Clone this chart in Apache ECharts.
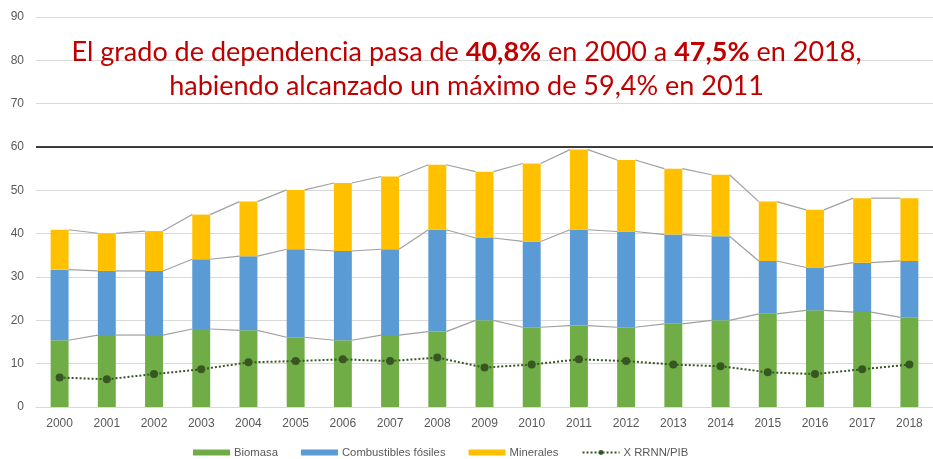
<!DOCTYPE html>
<html>
<head>
<meta charset="utf-8">
<script src="https://cdn.jsdelivr.net/npm/echarts@6/dist/echarts.min.js"></script>
<style>html,body{margin:0;padding:0;background:#fff;}#c{width:933px;height:459px;}</style>
</head>
<body>
<div id="c"></div>
<script>
const years = ['2000','2001','2002','2003','2004','2005','2006','2007','2008','2009','2010','2011','2012','2013','2014','2015','2016','2017','2018'];
const biomasa = [15.4,16.6,16.6,18.0,17.7,16.1,15.4,16.6,17.4,20.0,18.4,18.8,18.4,19.2,20.0,21.5,22.3,21.9,20.7];
const combustibles = [16.3,14.8,14.8,16.1,17.1,20.3,20.6,19.8,23.5,19.0,19.8,22.1,22.1,20.6,19.4,12.2,9.9,11.4,13.0];
const minerales = [9.2,8.7,9.2,10.3,12.6,13.7,15.7,16.8,15.0,15.3,18.0,18.5,16.5,15.2,14.2,13.7,13.3,14.9,14.5];
const rrnnPib = [6.8,6.4,7.6,8.7,10.3,10.6,11.0,10.6,11.4,9.1,9.8,11.0,10.6,9.8,9.4,8.0,7.6,8.7,9.8];
const yTicks = [0,10,20,30,40,50,60,70,80,90];

const lvl1 = biomasa.slice();
const lvl2 = biomasa.map((v,i)=>v+combustibles[i]);
const lvl3 = lvl2.map((v,i)=>v+minerales[i]);
const seriesLineData = [];
[lvl1,lvl2,lvl3].forEach(l=>{
  for (let i=0;i<l.length-1;i++) seriesLineData.push([i, l[i], l[i+1]]);
});

const chart = echarts.init(document.getElementById('c'));
const red = '#c00000';
const tfont = 'Lato';
const tsize = 27;
chart.setOption({
  animation:false,
  title:[
    {left:'center', top:36, padding:0, text:'{a|El grado de dependencia pasa de }{b|40,8%}{a| en 2000 a }{b|47,5%}{a| en 2018,}',
      textStyle:{fontWeight:'normal',lineHeight:32,rich:{a:{fontFamily:tfont,fontSize:tsize,color:red,fontWeight:'normal',lineHeight:32},b:{fontFamily:tfont,fontSize:tsize,color:red,fontWeight:'bold',lineHeight:32}}}},
    {left:'center', top:70, padding:0, text:'habiendo alcanzado un máximo de 59,4% en 2011',
      textStyle:{fontFamily:tfont,fontSize:tsize,color:red,fontWeight:'normal',lineHeight:32}}
  ],
  grid:{left:36,right:-1,top:17,bottom:52,containLabel:false},
  legend:{
    left:193, top:447, padding:0, itemWidth:37, itemHeight:6, itemGap:23,
    textStyle:{fontFamily:'Liberation Sans',fontSize:11.3,color:'#595959',padding:[0,0,0,-1]},
    data:[{name:'Biomasa',icon:'rect'},{name:'Combustibles fósiles',icon:'rect'},{name:'Minerales',icon:'rect'},{name:'X RRNN/PIB'}]
  },
  xAxis:{type:'category',data:years,
    axisLine:{show:true,lineStyle:{color:'#d9d9d9',width:1}},axisTick:{show:false},
    axisLabel:{fontFamily:'Liberation Sans',fontSize:12,color:'#595959',margin:11}},
  yAxis:{type:'value',min:yTicks[0],max:yTicks[yTicks.length-1],interval:10,
    axisLine:{show:false},axisTick:{show:false},
    splitLine:{lineStyle:{color:'#d9d9d9',width:1}},
    axisLabel:{fontFamily:'Liberation Sans',fontSize:12,color:'#595959',margin:12}},
  series:[
    {name:'seriesLines',type:'custom',z:1,silent:true,data:seriesLineData,
      renderItem:function(params,api){
        const i=api.value(0);
        const p0=api.coord([i,api.value(1)]);
        const p1=api.coord([i+1,api.value(2)]);
        const hw=api.size([1,0])[0]*0.38/2;
        return {type:'line',shape:{x1:p0[0]+hw,y1:p0[1],x2:p1[0]-hw,y2:p1[1]},
          style:{stroke:'#a0a0a0',lineWidth:1.2}};
      }},
    {name:'Biomasa',type:'bar',stack:'t',barWidth:'38%',data:biomasa,z:2,
      itemStyle:{color:'#70ad47'},
      markLine:{silent:true,symbol:'none',label:{show:false},lineStyle:{color:'#000',width:1.5,type:'solid'},data:[{yAxis:60}]}},
    {name:'Combustibles fósiles',type:'bar',stack:'t',barWidth:'38%',data:combustibles,z:2,itemStyle:{color:'#5b9bd5'}},
    {name:'Minerales',type:'bar',stack:'t',barWidth:'38%',data:minerales,z:2,itemStyle:{color:'#ffc000'}},
    {name:'X RRNN/PIB',type:'line',data:rrnnPib,z:5,symbol:'circle',symbolSize:8,
      itemStyle:{color:'#375623'},lineStyle:{color:'#375623',width:2,type:'dotted'}}
  ]
});
</script>
</body>
</html>
